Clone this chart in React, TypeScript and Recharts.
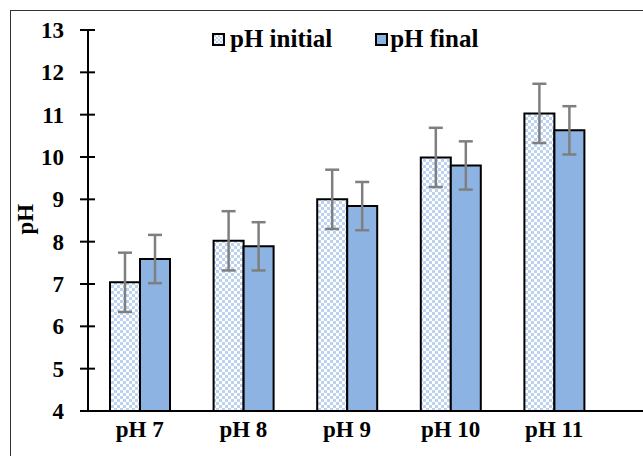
import React from 'react';
import { BarChart, Bar, XAxis, YAxis, ErrorBar } from 'recharts';

const categories = ['pH 7', 'pH 8', 'pH 9', 'pH 10', 'pH 11'];
const phInitial = [7.04, 8.02, 9.0, 9.99, 11.03];
const phFinal = [7.59, 7.89, 8.84, 9.8, 10.63];
const errInitial = [0.7, 0.7, 0.7, 0.7, 0.7];
const errFinal = [0.57, 0.57, 0.57, 0.57, 0.57];
const yTicks = [4, 5, 6, 7, 8, 9, 10, 11, 12, 13];

const data = categories.map((name, i) => ({
  name,
  initial: phInitial[i],
  final: phFinal[i],
  errInitial: errInitial[i],
  errFinal: errFinal[i],
}));

const FONT = "'Times New Roman', 'Liberation Serif', 'DejaVu Serif', serif";
const FINAL_BLUE = '#8db3e2';
const CHECK_BLUE = '#bcd2ee';
const textStyle = { fontFamily: FONT, fontWeight: 700, fill: '#000' };

// Y ticks cross the axis line on both sides
const YTick = (props: any) => {
  const { x, y, payload } = props;
  return (
    <g>
      <line x1={x - 8} x2={x + 7} y1={y} y2={y} stroke="#000" strokeWidth={2} />
      <text x={x - 24} y={y} dy="0.35em" textAnchor="end" style={{ ...textStyle, fontSize: 23 }}>
        {payload.value}
      </text>
    </g>
  );
};

const Swatch = ({ checked }: { checked: boolean }) => (
  <svg width={13} height={13} style={{ display: 'block' }}>
    <defs>
      <pattern id="legendCheck" width={4} height={4} patternUnits="userSpaceOnUse">
        <rect width={4} height={4} fill="#fff" />
        <rect width={2} height={2} fill={CHECK_BLUE} />
        <rect x={2} y={2} width={2} height={2} fill={CHECK_BLUE} />
      </pattern>
    </defs>
    <rect
      x={1}
      y={1}
      width={11}
      height={11}
      fill={checked ? 'url(#legendCheck)' : FINAL_BLUE}
      stroke="#000"
      strokeWidth={2}
    />
  </svg>
);

const LegendBox = () => (
  <div
    style={{
      position: 'absolute',
      left: 212,
      top: 26,
      display: 'flex',
      alignItems: 'center',
      fontFamily: FONT,
      fontWeight: 700,
      fontSize: 25,
      color: '#000',
      lineHeight: '26px',
    }}
  >
    <Swatch checked />
    <span style={{ marginLeft: 5, marginRight: 43 }}>pH initial</span>
    <Swatch checked={false} />
    <span style={{ marginLeft: 2 }}>pH final</span>
  </div>
);

export default function App() {
  return (
    <div style={{ position: 'absolute', left: 0, top: 0, width: 643, height: 456, overflow: 'hidden', background: '#fff' }}>
      <div
        style={{
          position: 'absolute',
          left: 10,
          top: 10,
          width: 700,
          height: 500,
          borderLeft: '1.5px solid #333',
          borderTop: '1.5px solid #333',
        }}
      />
      <BarChart
        width={643}
        height={456}
        data={data}
        margin={{ top: 30, right: 0, left: 28, bottom: 0 }}
        barCategoryGap={22}
        barGap={0}
        style={{ position: 'absolute', left: 0, top: 0 }}
      >
        <defs>
          <pattern id="checker" width={6} height={6} patternUnits="userSpaceOnUse">
            <rect width={6} height={6} fill="#fff" />
            <rect width={3} height={3} fill={CHECK_BLUE} />
            <rect x={3} y={3} width={3} height={3} fill={CHECK_BLUE} />
          </pattern>
        </defs>
        <XAxis
          dataKey="name"
          height={45}
          padding={{ left: 0, right: 37 }}
          axisLine={{ stroke: '#000', strokeWidth: 2 }}
          tickLine={false}
          tickSize={0}
          tickMargin={10}
          tick={{ ...textStyle, fontSize: 23 }}
        />
        <YAxis
          width={60}
          domain={[4, 13]}
          ticks={yTicks}
          interval={0}
          allowDataOverflow
          axisLine={{ stroke: '#000', strokeWidth: 2 }}
          tickLine={false}
          tickSize={0}
          tickMargin={0}
          tick={<YTick />}
          label={{
            value: 'pH',
            angle: -90,
            position: 'insideLeft',
            dx: -8,
            dy: 14,
            style: { ...textStyle, fontSize: 23 },
          }}
        />
        <Bar dataKey="initial" fill="url(#checker)" stroke="#000" strokeWidth={2} isAnimationActive={false}>
          <ErrorBar dataKey="errInitial" width={7} stroke="#7f7f7f" strokeWidth={2.5} direction="y" />
        </Bar>
        <Bar dataKey="final" fill={FINAL_BLUE} stroke="#000" strokeWidth={2} isAnimationActive={false}>
          <ErrorBar dataKey="errFinal" width={7} stroke="#7f7f7f" strokeWidth={2.5} direction="y" />
        </Bar>
      </BarChart>
      <LegendBox />
    </div>
  );
}
